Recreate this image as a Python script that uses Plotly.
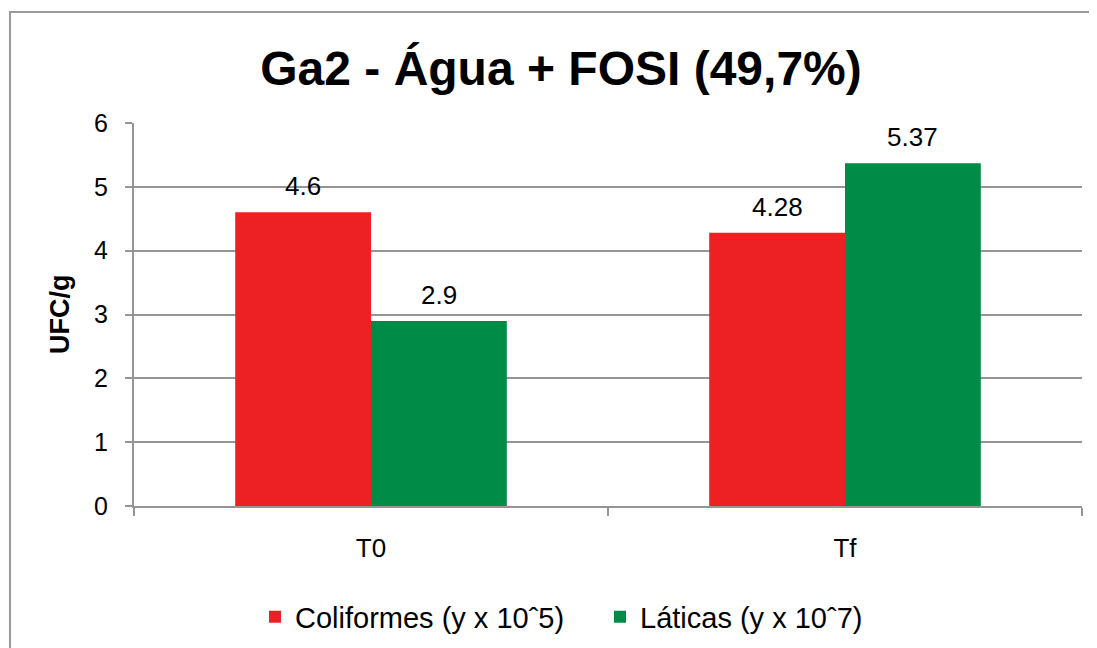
import plotly.graph_objects as go

categories = ["T0", "Tf"]
series_names = ["Coliformes (y x 10ˆ5)", "Láticas (y x 10ˆ7)"]
coliformes = [4.6, 4.28]
laticas = [2.9, 5.37]
y_ticks = [0, 1, 2, 3, 4, 5, 6]
colors = ["#ED2024", "#008B47"]
title_text = "Ga2 - Água + FOSI (49,7%)"
y_title = "UFC/g"

# page body adds an 8px offset; figure sized to compensate
OFF = 8
W, H = 1097 - OFF, 648 - OFF
L, R, T, B = 134 - OFF, 15, 123 - OFF, 142
PW, PH = W - L - R, H - T - B
FONT = "Liberation Sans, Arial, sans-serif"
GRID = "#959595"

fig = go.Figure()
for name, vals, col in zip(series_names, [coliformes, laticas], colors):
    fig.add_trace(go.Bar(
        x=categories, y=vals, name=name, marker=dict(color=col, line=dict(width=0)),
    ))

ann = []
for i, vals in enumerate([coliformes, laticas]):
    shift = -0.143 if i == 0 else 0.143
    for j, (c, v) in enumerate(zip(categories, vals)):
        ann.append(dict(
            x=j + shift, y=v, xref="x", yref="y", text=f"{v:g}", showarrow=False,
            yanchor="bottom", yshift=9, font=dict(size=26, color="black", family=FONT),
        ))

ann.append(dict(
    x=(60 - 134) / PW, y=(506 - 315) / PH, xref="paper", yref="paper", text=f"<b>{y_title}</b>",
    xanchor="center", yanchor="middle",
    textangle=-90, showarrow=False, font=dict(size=27, color="black", family=FONT),
))

fig.update_layout(
    width=W, height=H,
    margin=dict(l=L, r=R, t=T, b=B),
    paper_bgcolor="white", plot_bgcolor="white",
    barmode="group", bargap=0.427, bargroupgap=0,
    title=dict(text=f"<b>{title_text}</b>", x=(561 - OFF) / W, xanchor="center", xref="container",
               y=1 - (68 - OFF) / H, yanchor="middle", yref="container",
               font=dict(size=48, color="black", family=FONT)),
    font=dict(family=FONT, color="black"),
    showlegend=True,
    legend=dict(orientation="h", xref="container", yref="container", x=(600 - OFF) / W, xanchor="center",
                y=1 - (617 - OFF) / H, yanchor="middle", font=dict(size=29, color="black", family=FONT),
                entrywidth=300, entrywidthmode="pixels",
                bgcolor="rgba(0,0,0,0)"),
    annotations=ann,
    shapes=[dict(type="rect", xref="paper", yref="paper",
                 x0=(10 - 134) / PW, x1=(1120 - 134) / PW,
                 y0=(506 - 680) / PH, y1=1 + (123 - 12) / PH,
                 line=dict(color="#9a9a9a", width=2), fillcolor="rgba(0,0,0,0)", layer="below")],
)

fig.update_yaxes(
    range=[0, 6], tickvals=y_ticks, showgrid=True, gridcolor=GRID, gridwidth=2,
    showline=True, linecolor=GRID, linewidth=2, ticks="outside", ticklen=7, tickwidth=2,
    tickcolor=GRID, tickfont=dict(size=25, color="black", family=FONT), ticklabelstandoff=12,
    zeroline=False, fixedrange=True,
)
fig.update_xaxes(
    showline=True, linecolor=GRID, linewidth=2, ticks="outside", ticklen=8, tickwidth=2,
    tickcolor=GRID, tickson="boundaries", tickfont=dict(size=26, color="black", family=FONT),
    ticklabelstandoff=18, showgrid=False,
)

fig.write_html("out.html")
